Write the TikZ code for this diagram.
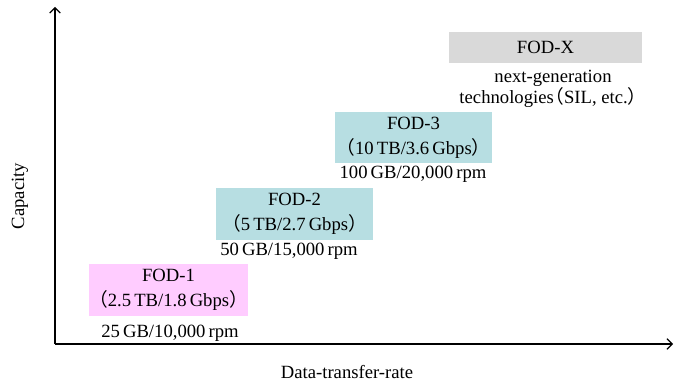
\documentclass[tikz,border=0pt]{standalone}
\usepackage{fontspec}
\setmainfont{Liberation Serif}
\newfontfamily\cjk{Noto Sans CJK JP}
\usetikzlibrary{positioning,arrows.meta}
\definecolor{colOne}{RGB}{255,204,255}
\definecolor{colMid}{RGB}{183,222,226}
\definecolor{colNext}{RGB}{217,217,217}
\newcommand{\lpar}{{\cjk （}}
\newcommand{\rpar}{{\cjk ）}}

\begin{document}
\begin{tikzpicture}[
    x=0.75pt, y=-0.75pt,
    every node/.style={font=\fontsize{14}{18.5}\selectfont},
    fod/.style={minimum width=118pt, minimum height=39pt, inner sep=0pt, align=center},
    spec/.style={inner sep=0pt, align=center}
]
    \useasboundingbox (0,0) rectangle (679,385);

    % axes
    \coordinate (O) at (55,344);
    \coordinate (ytop) at (55,7);
    \coordinate (xend) at (673,344);
    \draw[-{Straight Barb[length=4pt,width=8pt]},thick] (O) -- (ytop);
    \draw[-{Straight Barb[length=4pt,width=8pt]},thick] (O) -- (xend);
    \node[rotate=90] (cap) at (20,196) {Capacity};
    \node (rate) at (347,372) {Data-transfer-rate};

    % generations
    \node[fod, fill=colOne] (F1) at (168.5,289.5) {FOD-1\\\lpar 2.5\,TB/1.8\,Gbps\rpar};
    \node[fod, fill=colMid] (F2) at (294.5,213.5) {FOD-2\\\lpar 5\,TB/2.7\,Gbps\rpar};
    \node[fod, fill=colMid, minimum height=38pt] (F3) at (413.5,137.5) {FOD-3\\\lpar 10\,TB/3.6\,Gbps\rpar};
    \node[fod, fill=colNext, minimum width=145pt, minimum height=23pt] (FX) at (545.5,47.5) {FOD-X};

    % disk specs under each box
    \node[spec] (S1) at (170,333) {25\,GB/10,000\,rpm};
    \node[spec] (S2) at (289,251) {50\,GB/15,000\,rpm};
    \node[spec] (S3) at (413,174) {100\,GB/20,000\,rpm};
    \node[spec, font=\fontsize{14}{16}\selectfont] (SX) at (553,89) {next-generation\\technologies\kern-.45em\lpar SIL, etc.\rpar};
\end{tikzpicture}
\end{document}
